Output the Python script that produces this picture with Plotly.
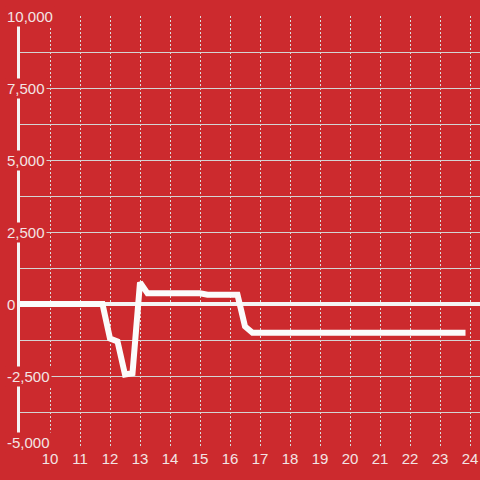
import plotly.graph_objects as go

hours = [9, 11.75, 12, 12.25, 12.5, 12.75, 13, 13.25, 15, 15.25, 16.25, 16.5, 16.75, 23.85]
values = [0, 0, -1200, -1300, -2450, -2400, 750, 370, 370, 320, 320, -780, -1000, -1000]

x_ticks = list(range(10, 25))
y_label_vals = [10000, 7500, 5000, 2500, 0, -2500, -5000]
y_label_text = ["10,000", "7,500", "5,000", "2,500", "0", "-2,500", "-5,000"]

BG = "#cc2a2e"
TXT = "#f3e4e4"

fig = go.Figure()
fig.add_trace(go.Scatter(x=hours, y=values, mode="lines",
                         line=dict(color="#fbfbfb", width=6), hoverinfo="skip"))

for v, t in zip(y_label_vals, y_label_text):
    fig.add_annotation(x=-15 / 460, y=v, xref="paper", yref="y", text=t,
                       showarrow=False, xanchor="left", yanchor="middle",
                       yshift=6 if v == -5000 else 0,
                       bgcolor=BG, borderpad=1,
                       font=dict(family="Liberation Sans, Arial", size=15, color=TXT))

fig.update_layout(
    width=480, height=480,
    margin=dict(l=20, r=0, t=16, b=32, autoexpand=False),
    paper_bgcolor=BG, plot_bgcolor=BG,
    showlegend=False,
    font=dict(family="Liberation Sans, Arial", size=15, color=TXT),
    xaxis=dict(range=[9, 24.333], tickvals=x_ticks, ticktext=[str(t) for t in x_ticks],
               showgrid=True, gridcolor="#dcdcdc", griddash="2px,2px", gridwidth=1,
               zeroline=False, showline=False, ticks="", ticklen=0, automargin=False,
               tickfont=dict(size=15, color=TXT)),
    yaxis=dict(range=[-5000, 10000], dtick=1250, tick0=0, showticklabels=False,
               showgrid=True, gridcolor="#d4d4d4", gridwidth=1, automargin=False,
               zeroline=True, zerolinecolor="#f4f4f4", zerolinewidth=4,
               showline=True, linecolor="#f4f4f4", linewidth=3, ticks=""),
)

fig.write_html("out.html", config={"displayModeBar": False},
               post_script="document.body.style.margin='0px';"
                           "document.body.style.background='#cc2a2e';")
